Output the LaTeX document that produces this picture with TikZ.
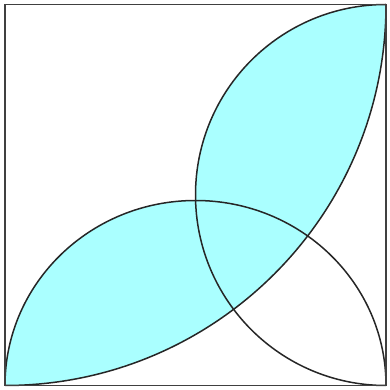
\documentclass[tikz,border=0pt]{standalone}
\usetikzlibrary{calc}
\definecolor{leafcyan}{RGB}{170,255,255}

\begin{document}
\begin{tikzpicture}[x=1pt,y=1pt]
\tikzset{
  frame/.style={draw=black!75, line width=1.6pt},
  arcline/.style={draw=black!85, line width=1.5pt},
  leaf/.style={fill=leafcyan}
}
\useasboundingbox (0,0) rectangle (389,390);
\coordinate (bl) at (5,4.5);
\coordinate (tl) at (5,385.5);
\coordinate (tr) at (386,385.5);
\coordinate (br) at (386,4.5);
% shaded part: both half discs, inside the quarter disc
\begin{scope}
  \clip (tl) -- (bl) arc[start angle=270, end angle=360, radius=381] -- cycle;
  \fill[leaf] (bl) arc[start angle=180, end angle=0, x radius=190.5, y radius=185] -- cycle;
  \fill[leaf] (tr) arc[start angle=90, end angle=270, radius=190.5] -- cycle;
\end{scope}
\draw[arcline] (bl) arc[start angle=180, end angle=0, x radius=190.5, y radius=185];
\draw[arcline] (tr) arc[start angle=90, end angle=270, radius=190.5];
\draw[arcline] (bl) arc[start angle=270, end angle=360, radius=381];
\draw[frame] (bl) rectangle (tr);
\end{tikzpicture}
\end{document}
